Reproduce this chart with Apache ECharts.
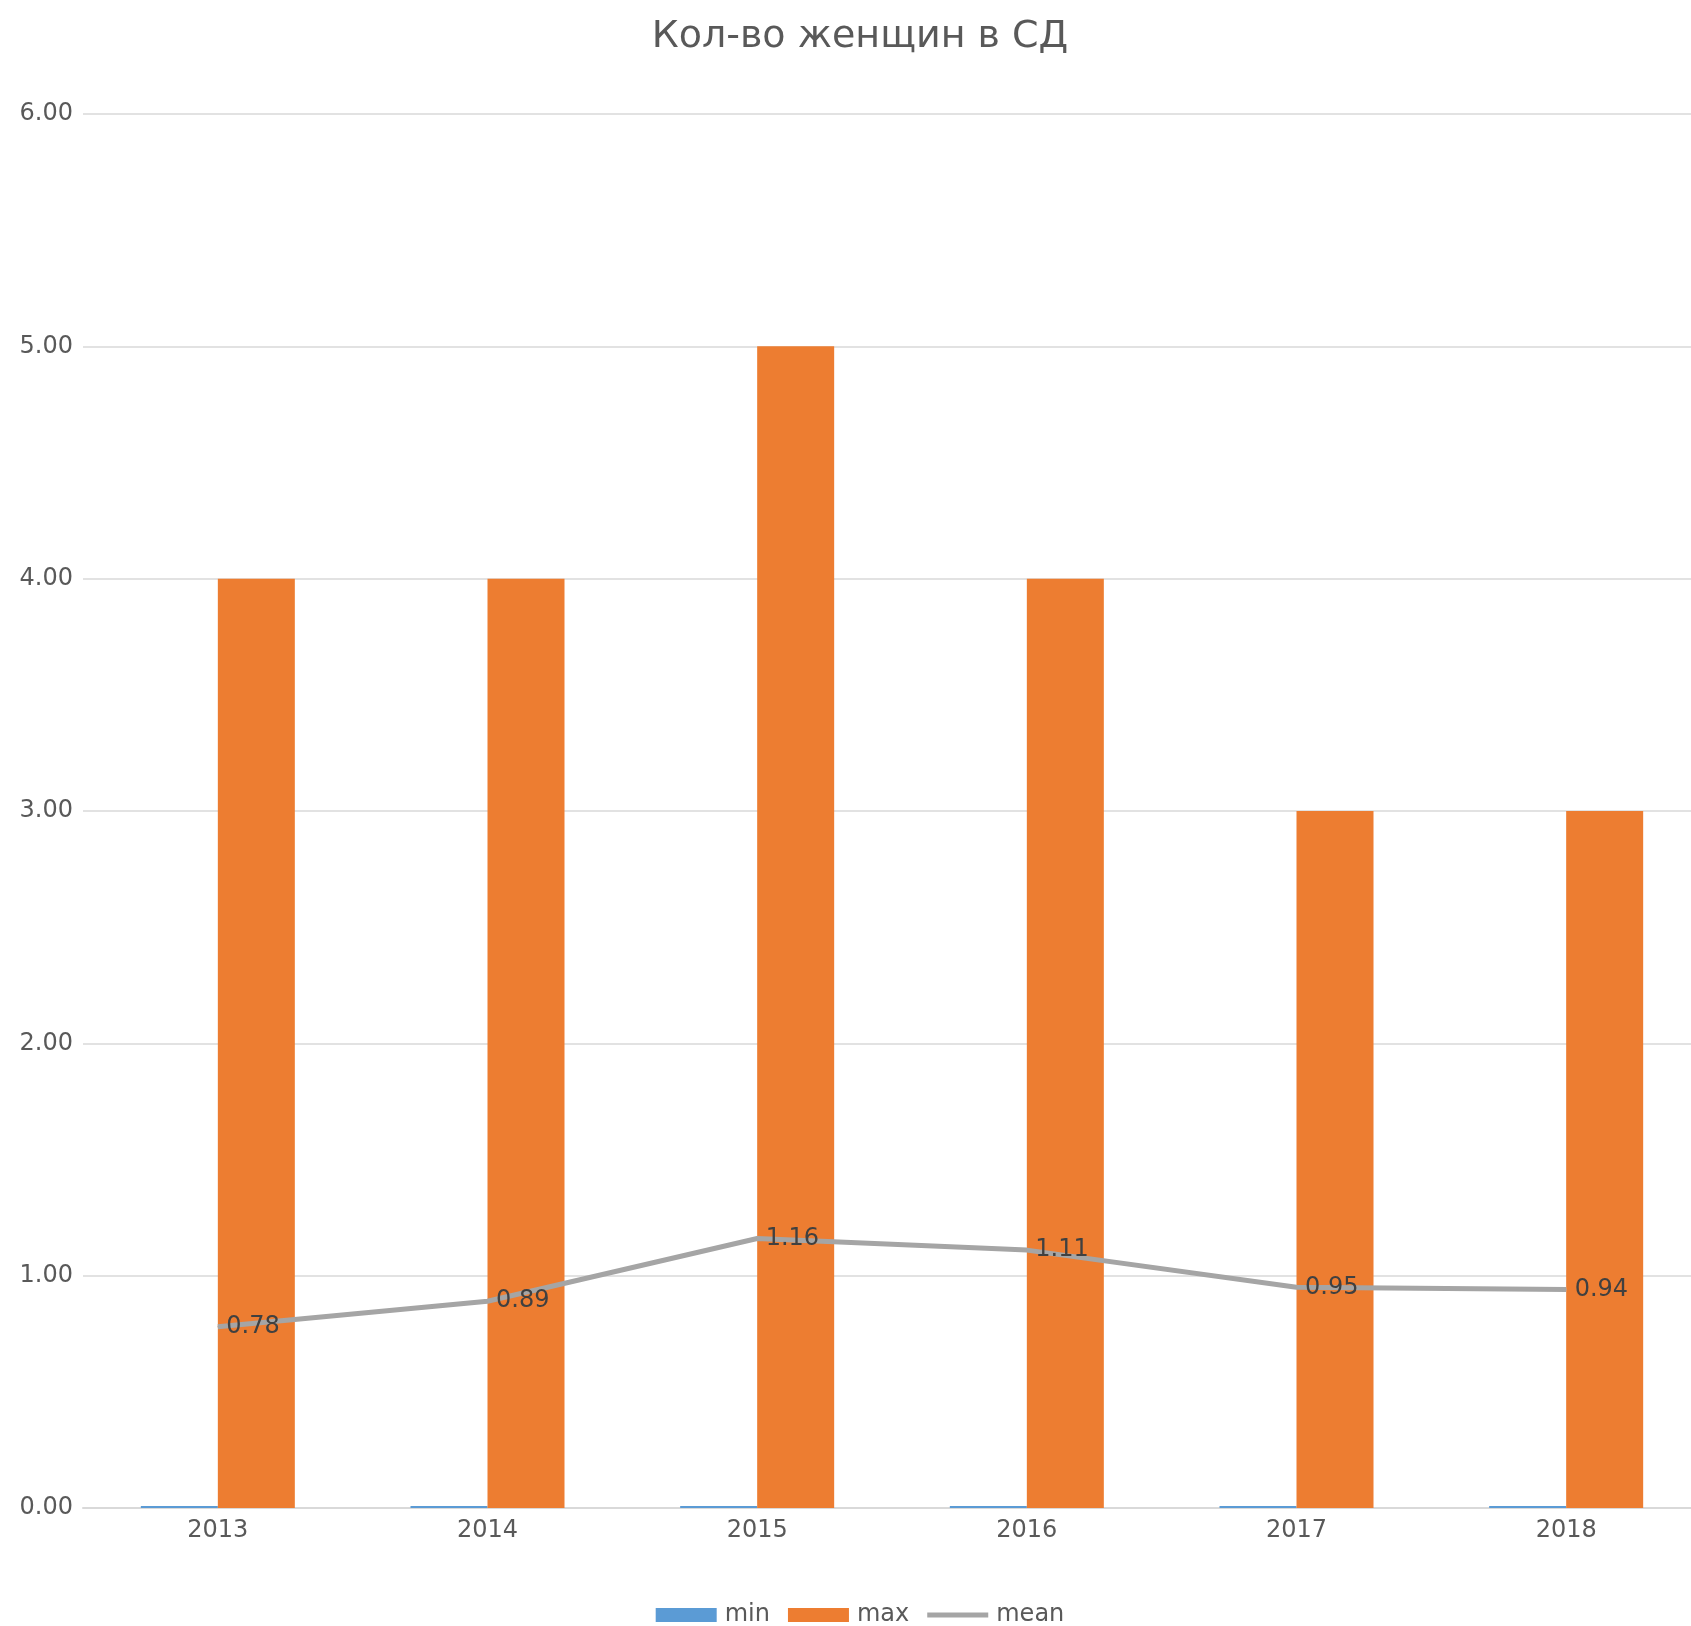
<!DOCTYPE html>
<html>
<head>
<meta charset="utf-8">
<script src="https://cdn.jsdelivr.net/npm/echarts@6/dist/echarts.min.js"></script>
<style>
html,body{margin:0;padding:0;background:#fff;overflow:hidden;width:1691px;height:1626px;}
#chart{width:1720px;height:1626px;}
</style>
</head>
<body>
<div id="chart"></div>
<script>
const titleText = 'Кол-во женщин в СД';
const categories = ['2013', '2014', '2015', '2016', '2017', '2018'];
const minValues = [0, 0, 0, 0, 0, 0];
const maxValues = [4, 4, 5, 4, 3, 3];
const meanValues = [0.78, 0.89, 1.16, 1.11, 0.95, 0.94];
const yTicks = [0, 1, 2, 3, 4, 5, 6];

const font = 'DejaVu Sans';
const chart = echarts.init(document.getElementById('chart'), null, {renderer: 'canvas'});
chart.setOption({
  animation: false,
  backgroundColor: '#ffffff',
  title: {
    text: titleText,
    left: 'center',
    top: 13,
    textStyle: {fontFamily: font, fontSize: 38, fontWeight: 'normal', color: '#595959'}
  },
  legend: {
    top: 1598,
    left: 'center',
    itemWidth: 61,
    itemHeight: 14,
    itemGap: 18,
    textStyle: {fontFamily: font, fontSize: 24, color: '#595959', padding: [0, 0, 0, 3]},
    data: [
      {name: 'min', icon: 'rect'},
      {name: 'max', icon: 'rect'},
      {name: 'mean', icon: 'path://M0,0 L61,0 M0,4.5 L61,4.5 L61,9.5 L0,9.5 Z M0,14 L61,14',
        itemStyle: {borderWidth: 0}}
    ]
  },
  grid: {left: 83, right: 19, top: 114, bottom: 118, containLabel: false},
  xAxis: {
    type: 'category',
    data: categories,
    axisLine: {lineStyle: {color: '#D9D9D9', width: 2}},
    axisTick: {show: false},
    axisLabel: {fontFamily: font, fontSize: 24, color: '#595959', margin: 11}
  },
  yAxis: {
    type: 'value',
    min: yTicks[0],
    max: yTicks[yTicks.length - 1],
    interval: 1,
    axisLine: {show: false},
    axisTick: {show: false},
    splitLine: {lineStyle: {color: '#D9D9D9', width: 1.5}},
    axisLabel: {fontFamily: font, fontSize: 24, color: '#595959', margin: 10,
      formatter: v => v.toFixed(2)}
  },
  series: [
    {
      name: 'min', type: 'bar', data: minValues,
      barWidth: 77, barGap: '0%', barMinHeight: 2,
      itemStyle: {color: '#5B9BD5'}
    },
    {
      name: 'max', type: 'bar', data: maxValues,
      barWidth: 77, barGap: '0%',
      itemStyle: {color: '#ED7D31'}
    },
    {
      name: 'mean', type: 'line', data: meanValues,
      symbol: 'circle', symbolSize: 1, showSymbol: true, smooth: false,
      lineStyle: {color: '#A5A5A5', width: 5},
      itemStyle: {color: '#A5A5A5'},
      label: {show: true, position: 'right', distance: 8,
        fontFamily: font, fontSize: 24, color: '#404040',
        formatter: p => p.value.toFixed(2)}
    }
  ]
});
</script>
</body>
</html>
